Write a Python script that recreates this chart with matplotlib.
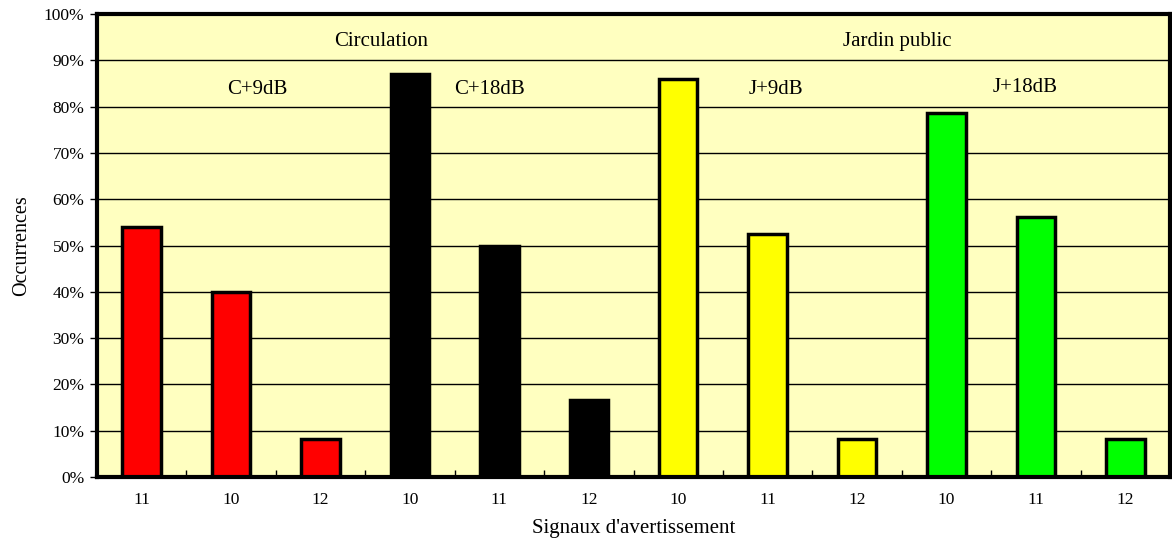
#!/usr/bin/env python3
import matplotlib
matplotlib.use('Agg')
import matplotlib.pyplot as plt
import numpy as np
from matplotlib.ticker import PercentFormatter, MultipleLocator

plt.rcParams.update({
    'font.family': ['Liberation Serif', 'DejaVu Serif'],
    'font.size': 12,
})

# data
categories = ['11', '10', '12', '10', '11', '12', '10', '11', '12', '10', '11', '12']
values = [54, 40, 8.3, 87, 50, 16.7, 86, 52.5, 8.3, 78.6, 56.2, 8.3]
bar_colors = ['#ff0000'] * 3 + ['#000000'] * 3 + ['#ffff00'] * 3 + ['#00ff00'] * 3
group_labels = ['Circulation', 'Jardin public']
sub_labels = ['C+9dB', 'C+18dB', 'J+9dB', 'J+18dB']

fig = plt.figure(figsize=(11.72, 5.4), dpi=100)
ax = fig.add_axes([97 / 1172, 63 / 540, 1073 / 1172, 463 / 540])
ax.set_facecolor('#ffffc0')

x = np.arange(len(categories))
ax.bar(x, values, width=0.43, color=bar_colors, edgecolor='black', linewidth=2.5, zorder=3)

ax.set_xlim(-0.5, len(categories) - 0.5)
ax.set_ylim(0, 100)
ax.yaxis.set_major_locator(MultipleLocator(10))
ax.yaxis.set_major_formatter(PercentFormatter(decimals=0))
ax.grid(axis='y', color='black', linewidth=1.0, zorder=1)
ax.set_axisbelow(True)

ax.set_xticks(x)
ax.set_xticklabels(categories)
ax.tick_params(axis='x', which='major', length=0, pad=11, labelsize=12.5)
ax.set_xticks(np.arange(0.5, len(categories) - 1, 1), minor=True)
ax.tick_params(axis='x', which='minor', direction='in', length=5, width=1)
ax.tick_params(axis='y', direction='out', length=5, width=1, pad=4, labelsize=12.5)

for s in ax.spines.values():
    s.set_linewidth(3)
    s.set_zorder(4)

# group and sub-group annotations
ax.text(0.265, 0.94, group_labels[0], transform=ax.transAxes, ha='center', va='center', fontsize=15)
ax.text(0.746, 0.94, group_labels[1], transform=ax.transAxes, ha='center', va='center', fontsize=15)
for lbl, xp, yp in zip(sub_labels, [0.149, 0.366, 0.633, 0.865], [0.838, 0.838, 0.838, 0.842]):
    ax.text(xp, yp, lbl, transform=ax.transAxes, ha='center', va='center', fontsize=15)

ax.set_xlabel("Signaux d'avertissement", fontsize=15, labelpad=8)
ax.set_ylabel('Occurrences', fontsize=14.5, labelpad=9)

fig.savefig('out.png', dpi=100)
